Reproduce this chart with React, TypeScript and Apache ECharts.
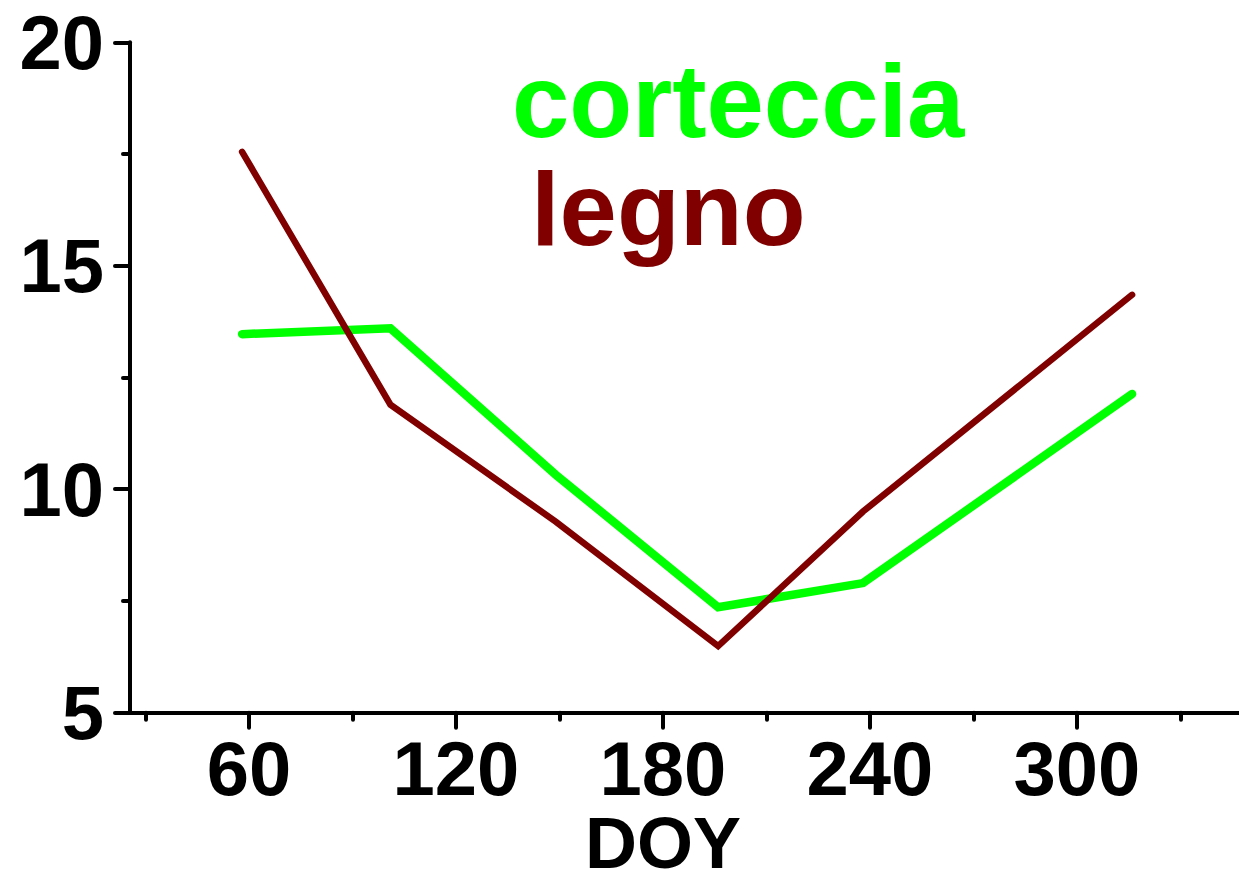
import React, { useEffect, useRef } from "react";
import * as echarts from "echarts";

const doy = [58, 101, 149, 196, 238, 316];
const corteccia = [13.47, 13.6, 10.32, 7.36, 7.9, 12.13];
const legno = [17.55, 11.89, 9.27, 6.49, 9.5, 14.35];
const xLabelValues = [60, 120, 180, 240, 300];
const xMinorValues = [30, 90, 150, 210, 270, 330];
const seriesNames = ["corteccia", "legno"];
const xName = "DOY";

const FONT = "'Liberation Sans', Arial, Helvetica, sans-serif";

export default function App() {
  const ref = useRef<HTMLDivElement>(null);
  useEffect(() => {
    if (!ref.current) return;
    const chart = echarts.init(ref.current, null, { renderer: "svg" });
    const tickStyle = { color: "#000", width: 4, cap: "round" };
    const labelStyle = {
      fontSize: 76,
      fontWeight: "bold",
      color: "#000",
      fontFamily: FONT,
    };
    chart.setOption({
      animation: false,
      backgroundColor: "#fff",
      grid: {
        left: 130,
        right: 0,
        top: 42.3,
        bottom: 161.3,
        containLabel: false,
        outerBoundsMode: "none",
      },
      xAxis: [
        {
          type: "value",
          min: 25.5,
          max: 347,
          position: "bottom",
          axisLine: { show: true, onZero: false, lineStyle: { color: "#000", width: 4 } },
          axisTick: { show: true, customValues: xLabelValues, length: 15, lineStyle: tickStyle },
          axisLabel: { ...labelStyle, customValues: xLabelValues, margin: 18 },
          splitLine: { show: false },
        },
        {
          type: "value",
          min: 25.5,
          max: 347,
          position: "bottom",
          offset: 0,
          axisLine: { show: false, onZero: false },
          axisTick: { show: true, customValues: xMinorValues, length: 7, lineStyle: tickStyle },
          axisLabel: { show: false },
          splitLine: { show: false },
        },
      ],
      yAxis: {
        type: "value",
        min: 5,
        max: 20,
        interval: 5,
        axisLine: { show: true, lineStyle: { color: "#000", width: 4 } },
        axisTick: { show: true, length: 15, lineStyle: tickStyle },
        minorTick: { show: true, splitNumber: 2, length: 7, lineStyle: tickStyle },
        axisLabel: { ...labelStyle, margin: 26 },
        splitLine: { show: false },
        minorSplitLine: { show: false },
      },
      series: [
        {
          name: seriesNames[0],
          type: "line",
          showSymbol: false,
          symbol: "none",
          xAxisIndex: 0,
          data: doy.map((d, i) => [d, corteccia[i]]),
          lineStyle: { color: "#00ff00", width: 8.5, cap: "round", join: "miter" },
          z: 2,
        },
        {
          name: seriesNames[1],
          type: "line",
          showSymbol: false,
          symbol: "none",
          xAxisIndex: 0,
          data: doy.map((d, i) => [d, legno[i]]),
          lineStyle: { color: "#800000", width: 6.5, cap: "round", join: "miter" },
          z: 3,
        },
      ],
      graphic: [
        {
          type: "text",
          x: 512,
          y: 101.3,
          style: {
            text: seriesNames[0],
            fill: "#00ff00",
            font: `bold 103px ${FONT}`,
            textAlign: "left",
            textVerticalAlign: "middle",
          },
        },
        {
          type: "text",
          x: 531,
          y: 209.3,
          style: {
            text: seriesNames[1],
            fill: "#800000",
            font: `bold 103px ${FONT}`,
            textAlign: "left",
            textVerticalAlign: "middle",
          },
        },
        {
          type: "text",
          x: 663,
          y: 843,
          style: {
            text: xName,
            fill: "#000",
            font: `bold 72px ${FONT}`,
            textAlign: "center",
            textVerticalAlign: "middle",
          },
        },
      ],
    });
    return () => chart.dispose();
  }, []);
  return (
    <div
      ref={ref}
      style={{ position: "absolute", left: 0, top: 0, width: 1239, height: 874 }}
    />
  );
}
